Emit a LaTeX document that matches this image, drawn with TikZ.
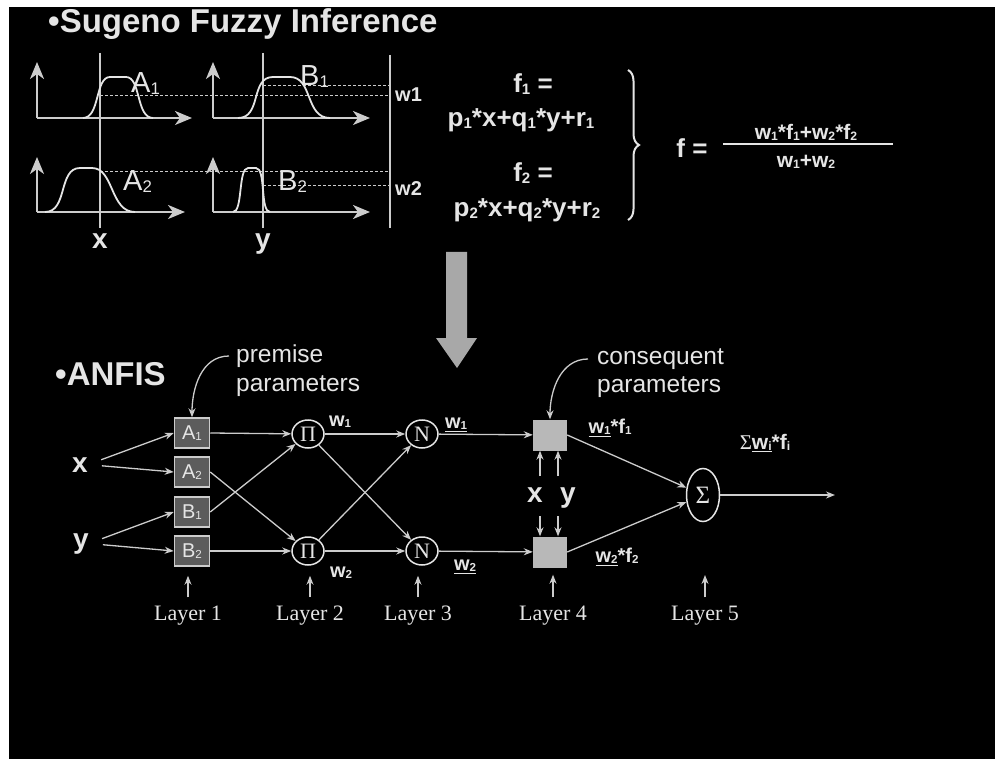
\documentclass[tikz,border=0pt]{standalone}
\usepackage{fontspec}
\setmainfont{Liberation Sans}
\newfontfamily\romanfont{Liberation Serif}
\usetikzlibrary{arrows.meta, shapes.geometric, decorations.pathreplacing}

\definecolor{ink}{gray}{0.9}
\definecolor{wireclr}{gray}{0.8}
\definecolor{boxdark}{gray}{0.36}
\definecolor{boxlight}{gray}{0.72}
\definecolor{bigarrow}{gray}{0.66}

\newcommand{\fsz}[1]{\fontsize{#1}{#1}\selectfont}
\newcommand{\subidx}[1]{\raisebox{-0.04em}{\scalebox{0.58}{#1}}}

\begin{document}
\begin{tikzpicture}[x=1pt, y=-1pt,
    wire/.style={draw=wireclr, line width=1.3pt},
    conn/.style={wire, -{Stealth[length=9pt, width=7pt]}},
    axis/.style={draw=wireclr, line width=2.2pt, -{Stealth[length=17pt, width=14pt, inset=5pt]}},
    mfcurve/.style={draw=ink, line width=1.8pt},
    level/.style={draw=wireclr, dash pattern=on 3pt off 2pt, line width=0.9pt},
    lbl/.style={text=ink, inner sep=0pt},
    mfbox/.style={draw=wireclr, fill=boxdark, line width=1.5pt, minimum width=35pt, minimum height=30pt, text=ink, font=\fsz{20}, inner sep=0pt},
    conbox/.style={fill=boxlight, minimum width=34pt, minimum height=31pt, inner sep=0pt},
    opnode/.style={ellipse, draw=ink, line width=1.5pt, inner sep=0pt, text=ink, font=\romanfont\fsz{22}, minimum width=32pt, minimum height=28pt},
    layer/.style={lbl, font=\romanfont\fsz{22}, anchor=base}
]
    % Frame
    \useasboundingbox (0,0) rectangle (995,759);
    \fill[white] (0,0) rectangle (995,759);
    \fill[black] (9,7) rectangle (995,759);

    % Sugeno fuzzy inference
    \node[lbl, anchor=base west, font=\bfseries\fsz{33}] (title) at (48,33) {•Sugeno Fuzzy Inference};

    % Axes of the membership plots
    \draw[axis] (37,118) -- (37,62);
    \draw[axis] (37,118) -- (192,118);
    \draw[axis] (213,118) -- (213,62);
    \draw[axis] (213,118) -- (370,118);
    \draw[axis] (37,212) -- (37,157);
    \draw[axis] (37,212) -- (185,212);
    \draw[axis] (213,212) -- (213,157);
    \draw[axis] (213,212) -- (370,212);

    % Input lines and firing levels
    \draw[wire] (100,53) -- (100,228);
    \draw[wire] (263,53) -- (263,228);
    \draw[wire, line width=2pt] (390,55) -- (390,228);
    \draw[level] (100,95) -- (390,95);
    \draw[level] (263,85) -- (390,85);
    \draw[level] (100,171) -- (390,171);
    \draw[level] (263,185) -- (390,185);

    % Membership functions
    \draw[mfcurve] (83,118) .. controls (100,118) and (95,77) .. (110,77) -- (126,77) .. controls (141,77) and (136,118) .. (153,118);
    \draw[mfcurve] (238,118) .. controls (262,118) and (250,77) .. (273,77) -- (290,77) .. controls (313,77) and (305,118) .. (330,118);
    \draw[mfcurve] (45,212) .. controls (68,212) and (58,168) .. (80,168) -- (92,168) .. controls (114,168) and (110,212) .. (135,212);
    \draw[mfcurve] (233,212) .. controls (243,212) and (238,168) .. (248,168) -- (256,168) .. controls (266,168) and (260,212) .. (270,212);

    % Plot labels
    \node[lbl, anchor=base west, font=\fsz{29}] (lA1) at (131,93) {A\subidx{1}};
    \node[lbl, anchor=base west, font=\fsz{29}] (lB1) at (300,86) {B\subidx{1}};
    \node[lbl, anchor=base west, font=\fsz{29}] (lA2) at (123,191) {A\subidx{2}};
    \node[lbl, anchor=base west, font=\fsz{29}] (lB2) at (278,191) {B\subidx{2}};
    \node[lbl, anchor=base, font=\bfseries\fsz{28}] (xval) at (100,248) {x};
    \node[lbl, anchor=base, font=\bfseries\fsz{28}] (yval) at (263,248) {y};
    \node[lbl, anchor=west, font=\bfseries\fsz{20}] (lw1) at (395,95) {w1};
    \node[lbl, anchor=west, font=\bfseries\fsz{20}] (lw2) at (395,189) {w2};

    % Rule outputs
    \node[lbl, anchor=base, font=\bfseries\fsz{26}] (f1) at (533,93) {f\subidx{1} =};
    \node[lbl, anchor=base, font=\bfseries\fsz{26}] (f1rule) at (521,127) {p\subidx{1}*x+q\subidx{1}*y+r\subidx{1}};
    \node[lbl, anchor=base, font=\bfseries\fsz{26}] (f2) at (533,182) {f\subidx{2} =};
    \node[lbl, anchor=base, font=\bfseries\fsz{26}] (f2rule) at (527,217) {p\subidx{2}*x+q\subidx{2}*y+r\subidx{2}};
    \draw[draw=ink, line width=2pt, decorate, decoration={brace, amplitude=11pt}] (628,70) -- (628,220);
    \node[lbl, anchor=base, font=\bfseries\fsz{26}] (fout) at (692,158) {f =};
    \node[lbl, anchor=base, font=\bfseries\fsz{21}] (fnum) at (806,140) {w\subidx{1}*f\subidx{1}+w\subidx{2}*f\subidx{2}};
    \draw[draw=ink, line width=1.5pt] (723,144) -- (893,144);
    \node[lbl, anchor=base, font=\bfseries\fsz{21}] (fden) at (806,168) {w\subidx{1}+w\subidx{2}};

    % Big arrow
    \fill[bigarrow] (446,252) -- (467,252) -- (467,338) -- (477,338) -- (457,368) -- (436,338) -- (446,338) -- cycle;

    % ANFIS
    \node[lbl, anchor=base west, font=\bfseries\fsz{33}] (anfis) at (55,385) {•ANFIS};
    \node[lbl, anchor=west, align=left, font=\fontsize{24.5}{29}\selectfont] (premise) at (236,371) {premise\\parameters};
    \node[lbl, anchor=west, align=left, font=\fontsize{24.5}{28}\selectfont] (conseq) at (597,373) {consequent\\parameters};

    % Layer 1
    \node[mfbox] (A1) at (192,433) {A\subidx{1}};
    \node[mfbox] (A2) at (192,472) {A\subidx{2}};
    \node[mfbox] (B1) at (192,512) {B\subidx{1}};
    \node[mfbox] (B2) at (192,551) {B\subidx{2}};

    % Layers 2 and 3
    \node[opnode] (P1) at (308,434) {Π};
    \node[opnode] (P2) at (308,551) {Π};
    \node[opnode] (N1) at (422,434) {N};
    \node[opnode] (N2) at (422,551) {N};

    % Layers 4 and 5
    \node[conbox] (C1) at (550,435) {};
    \node[conbox] (C2) at (550,552) {};
    \node[opnode, minimum width=33pt, minimum height=53pt, font=\romanfont\fsz{25}] (S) at (703,495) {Σ};
    \coordinate (outend) at (835,495);

    % Inputs
    \node[lbl, anchor=base, font=\bfseries\fsz{28}] (xin) at (80,472) {x};
    \node[lbl, anchor=base, font=\bfseries\fsz{28}] (yin) at (81,548) {y};
    \node[lbl, anchor=base, font=\bfseries\fsz{28}] (xc) at (535,502) {x};
    \node[lbl, anchor=base, font=\bfseries\fsz{28}] (yc) at (568,502) {y};

    % Parameter pointers
    \coordinate (premtail) at (229,356);
    \coordinate (contail) at (588,359);
    \draw[conn] (premtail) to[out=180, in=90] (A1.north);
    \draw[conn] (contail) to[out=180, in=90] (C1.north);

    % Connections
    \draw[conn, shorten <=14pt] (xin.east) -- (A1.west);
    \draw[conn, shorten <=14pt] (xin.east) -- (A2.west);
    \draw[conn, shorten <=14pt] (yin.east) -- (B1.west);
    \draw[conn, shorten <=14pt] (yin.east) -- (B2.west);
    \draw[conn] (A1.east) -- (P1);
    \draw[conn] (B1.east) -- (P1);
    \draw[conn] (A2.east) -- (P2);
    \draw[conn] (B2.east) -- (P2);
    \draw[conn] (P1) -- (N1);
    \draw[conn] (P1) -- (N2);
    \draw[conn] (P2) -- (N1);
    \draw[conn] (P2) -- (N2);
    \draw[conn] (N1) -- (C1);
    \draw[conn] (N2) -- (C2);
    \draw[conn] (C1.east) -- (S);
    \draw[conn] (C2.east) -- (S);
    \draw[conn] (S.east) -- (outend);

    % Consequent inputs
    \coordinate (upx) at (540,476);
    \coordinate (upy) at (558,476);
    \coordinate (dnx) at (540,516);
    \coordinate (dny) at (558,516);
    \draw[conn] (upx) -- (upx |- C1.south);
    \draw[conn] (upy) -- (upy |- C1.south);
    \draw[conn] (dnx) -- (dnx |- C2.north);
    \draw[conn] (dny) -- (dny |- C2.north);

    % Signal labels
    \node[lbl, font=\bfseries\fsz{20}] (w1) at (340,422) {w\subidx{1}};
    \node[lbl, font=\bfseries\fsz{20}] (w2) at (341,573) {w\subidx{2}};
    \node[lbl, font=\bfseries\fsz{20}] (nw1) at (456,425) {\underline{w\subidx{1}}};
    \node[lbl, font=\bfseries\fsz{20}] (nw2) at (465,567) {\underline{w\subidx{2}}};
    \node[lbl, font=\bfseries\fsz{20}] (wf1) at (610,428) {\underline{w\subidx{1}}*f\subidx{1}};
    \node[lbl, font=\bfseries\fsz{20}] (wf2) at (617,557) {\underline{w\subidx{2}}*f\subidx{2}};
    \node[lbl, font=\bfseries\fsz{21}] (wfsum) at (765,443) {{\romanfont\mdseries Σ}\underline{w\subidx{i}}*f\subidx{i}};

    % Layer labels
    \node[layer] (L1) at (188,620) {Layer 1};
    \node[layer] (L2) at (310,620) {Layer 2};
    \node[layer] (L3) at (418,620) {Layer 3};
    \node[layer] (L4) at (553,620) {Layer 4};
    \node[layer] (L5) at (705,620) {Layer 5};
    \coordinate (L5tip) at (705,575);
    \draw[conn, shorten <=8pt, shorten >=9pt] (L1.north) -- (L1.north |- B2.south);
    \draw[conn, shorten <=8pt, shorten >=10pt] (L2.north) -- (L2.north |- P2.south);
    \draw[conn, shorten <=8pt, shorten >=10pt] (L3.north) -- (L3.north |- N2.south);
    \draw[conn, shorten <=8pt, shorten >=7pt] (L4.north) -- (L4.north |- C2.south);
    \draw[conn, shorten <=8pt] (L5.north) -- (L5tip);
\end{tikzpicture}
\end{document}
